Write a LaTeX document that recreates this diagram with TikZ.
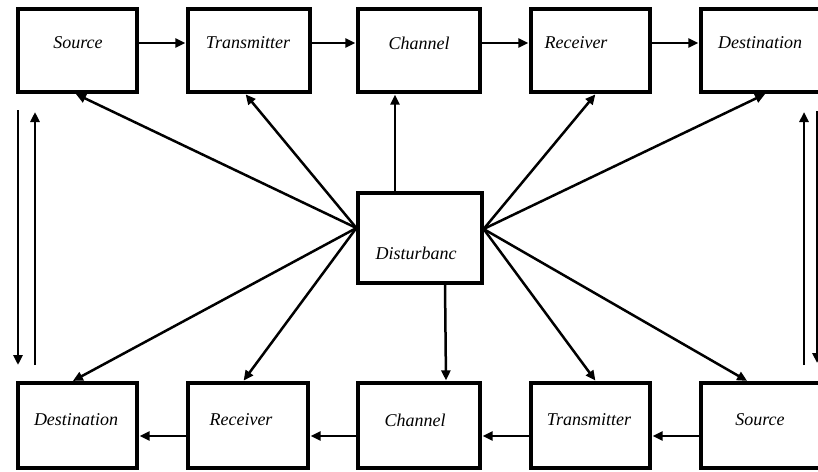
\documentclass[tikz,border=0pt]{standalone}
\usepackage{fontspec}
\setmainfont{Liberation Serif}
\usetikzlibrary{arrows.meta}
\begin{document}
\begin{tikzpicture}[x=1pt,y=-1pt,
  box/.style={draw=black, line width=3.2pt, fill=white, inner sep=0pt},
  lbl/.style={inner sep=0pt, font=\fontsize{18}{21}\selectfont\itshape},
  arr/.style={line width=2.5pt, -{Triangle[length=10pt,width=9pt]}, shorten >=1pt}]
\clip (0,0) rectangle (818,471);
\fill[white] (0,0) rectangle (818,471);
% top row
\node[box, minimum width=119pt, minimum height=83pt] (s1) at (77.5,50.5) {};
\node[box, minimum width=122pt, minimum height=83pt] (t1) at (249,50.5) {};
\node[box, minimum width=122pt, minimum height=83pt] (c1) at (419,50.5) {};
\node[box, minimum width=119pt, minimum height=83pt] (r1) at (590.5,50.5) {};
\node[box, minimum width=122pt, minimum height=83pt] (d1) at (762,50.5) {};
% bottom row
\node[box, minimum width=119pt, minimum height=85pt] (d2) at (77.5,425.5) {};
\node[box, minimum width=120pt, minimum height=85pt] (r2) at (248,425.5) {};
\node[box, minimum width=122pt, minimum height=85pt] (c2) at (419,425.5) {};
\node[box, minimum width=119pt, minimum height=85pt] (t2) at (590.5,425.5) {};
\node[box, minimum width=122pt, minimum height=85pt] (s2) at (762,425.5) {};
% disturbance
\node[box, minimum width=124pt, minimum height=90pt] (dist) at (420,238) {};
% labels
\node[lbl] (ls1) at (78,43) {Source};
\node[lbl] (lt1) at (248,43) {Transmitter};
\node[lbl] (lc1) at (419,43) {Channel};
\node[lbl] (lr1) at (576,43) {Receiver};
\node[lbl] (ld1) at (760,43) {Destination};
\node[lbl] (ld2) at (76,420) {Destination};
\node[lbl] (lr2) at (241,420) {Receiver};
\node[lbl] (lc2) at (415,420) {Channel};
\node[lbl] (lt2) at (589,420) {Transmitter};
\node[lbl] (ls2) at (760,420) {Source};
\node[lbl] (ldist) at (416,253) {Disturbanc};
% top row arrows
\draw[arr] (s1.east |- 0,43) -- (t1.west |- 0,43);
\draw[arr] (t1.east |- 0,43) -- (c1.west |- 0,43);
\draw[arr] (c1.east |- 0,43) -- (r1.west |- 0,43);
\draw[arr] (r1.east |- 0,43) -- (d1.west |- 0,43);
% bottom row arrows
\draw[arr] (s2.west |- 0,436) -- (t2.east |- 0,436);
\draw[arr] (t2.west |- 0,436) -- (c2.east |- 0,436);
\draw[arr] (c2.west |- 0,436) -- (r2.east |- 0,436);
\draw[arr] (r2.west |- 0,436) -- (d2.east |- 0,436);
% disturbance fan
\coordinate (dw) at ([yshift=10pt]dist.west);
\coordinate (de) at ([yshift=9pt]dist.east);
\draw[arr] (dw) -- ([xshift=-2.5pt]s1.south);
\draw[arr] (dw) -- ([xshift=-4pt]t1.south);
\draw[arr] (dw) -- ([xshift=-5.5pt]d2.north);
\draw[arr] (dw) -- ([xshift=-5pt]r2.north);
\draw[arr] (de) -- ([xshift=5.5pt]r1.south);
\draw[arr] (de) -- ([xshift=4pt]d1.south);
\draw[arr] (de) -- ([xshift=5.5pt]t2.north);
\draw[arr] (de) -- ([xshift=-14pt]s2.north);
\draw[arr] ([xshift=-25pt]dist.north) -- ([xshift=-24pt]c1.south);
\draw[arr] ([xshift=25pt]dist.south) -- ([xshift=27pt]c2.north);
% side arrows
\coordinate (la1) at (18,110);
\coordinate (la2) at (18,366);
\coordinate (lb1) at (35,365);
\coordinate (lb2) at (35,111);
\coordinate (ra1) at (804,365);
\coordinate (ra2) at (804,111);
\coordinate (rb1) at (817,111);
\coordinate (rb2) at (817,364);
\draw[arr] (la1) -- (la2);
\draw[arr] (lb1) -- (lb2);
\draw[arr] (ra1) -- (ra2);
\draw[arr] (rb1) -- (rb2);
\end{tikzpicture}
\end{document}
